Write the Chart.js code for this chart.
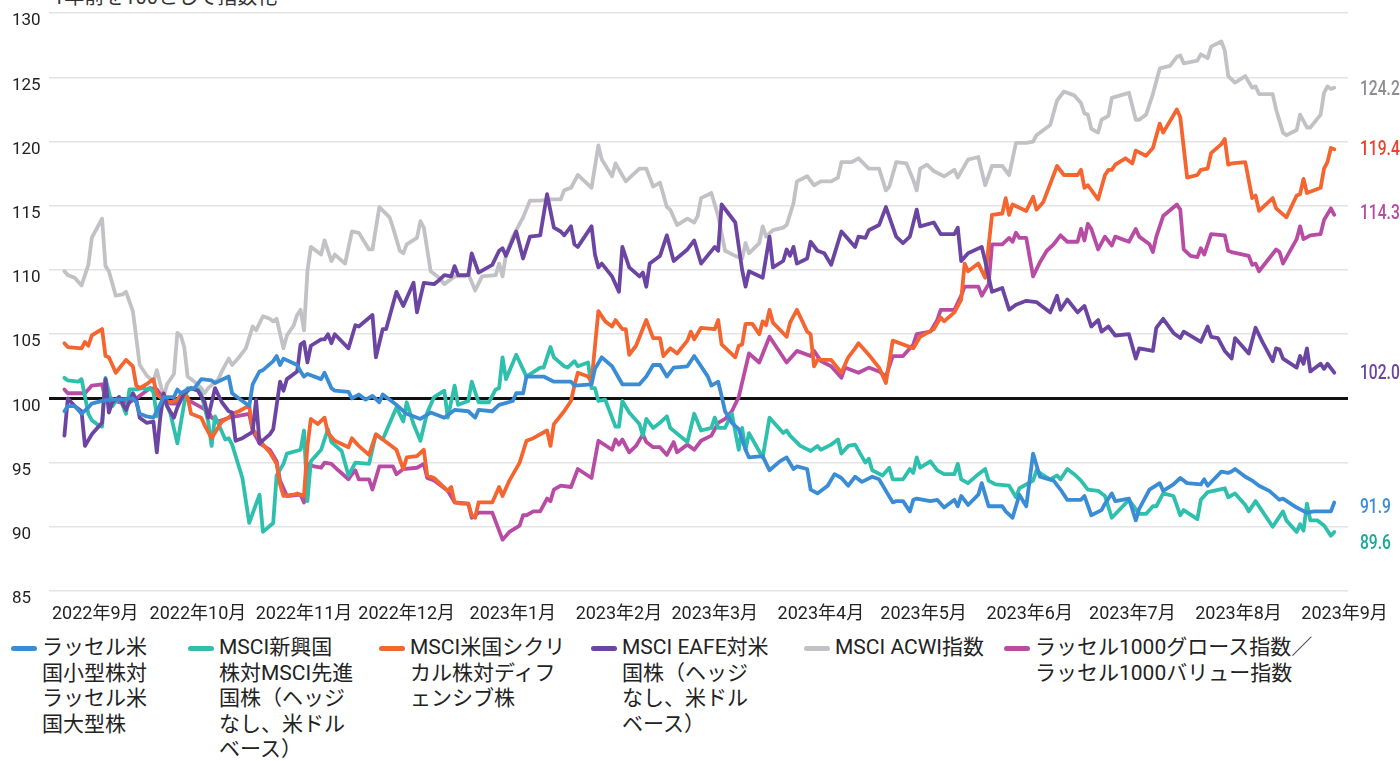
<!DOCTYPE html>
<html lang="ja">
<head>
<meta charset="utf-8">
<script src="https://cdn.jsdelivr.net/npm/chart.js@4.4.1/dist/chart.umd.min.js"></script>
<style>
  body { margin: 0; background: #fff; width: 1400px; height: 761px; overflow: hidden; position: relative;
         font-family: "Roboto", "Noto Sans CJK JP", sans-serif; }
  #note { position: absolute; left: 53px; top: -19px; font-size: 20px; color: #333; white-space: nowrap; }
  #wrap { position: absolute; left: 0; top: 0; width: 1400px; height: 631px; }
  #legend { position: absolute; left: 0; top: 635px; width: 1400px; height: 126px; }
  .item { position: absolute; top: 0; display: flex; align-items: flex-start; }
  .mark { width: 26px; height: 5px; border-radius: 3px; margin-top: 11px; margin-right: 5px; flex: none; }
  .txt { font-size: 21px; line-height: 25.5px; color: #222; white-space: pre; }
</style>
</head>
<body>
<div id="note">1年前を100として指数化</div>
<div id="wrap"><canvas id="grafico" width="1400" height="631"></canvas></div>
<div id="legend"></div>
<script>
// etiquetas del eje x (inicio de cada mes)
const monthLabels = ['2022年9月', '2022年10月', '2022年11月', '2022年12月', '2023年1月', '2023年2月', '2023年3月',
  '2023年4月', '2023年5月', '2023年6月', '2023年7月', '2023年8月', '2023年9月'];

// nombres de las series (\n = salto de linea de la leyenda)
const seriesNames = [
  'ラッセル米\n国小型株対\nラッセル米\n国大型株',
  'MSCI新興国\n株対MSCI先進\n国株（ヘッジ\nなし、米ドル\nベース）',
  'MSCI米国シクリ\nカル株対ディフ\nェンシブ株',
  'MSCI EAFE対米\n国株（ヘッジ\nなし、米ドル\nベース）',
  'MSCI ACWI指数',
  'ラッセル1000グロース指数／\nラッセル1000バリュー指数'
];

// [dias desde 2022-09-01, valor indexado]
const smallVsLarge = [[-9,99],[-8,99.4],[-6,99.4],[-4,98.8],[-2,99.3],[-1,99.6],[2,99.8],[4,99.9],[7,99.9],[11,100],[12,99.7],[13,98.8],[15,98.6],[17,98.5],[18,99],[20,100.1],[23,100.1],[24,100.7],[25,100.4],[27,100.7],[29,100.8],[31,101.5],[34,101.4],[35,101.2],[39,101.7],[40,100.4],[42,100],[45,99.4],[46,101.1],[48,102.1],[49,102.2],[52,102.9],[53,103.3],[54,102.6],[55,103.1],[59,102.6],[60,102.1],[61,101.7],[62,101.9],[66,101.5],[67,102],[69,100.8],[70,100.6],[74,100.5],[75,100],[77,100.3],[79,99.9],[81,100.2],[83,99.7],[84,100.3],[88,99.5],[91,98.8],[95,98.4],[98,98.9],[102,98.5],[105,99.1],[109,99],[111,98.5],[112,99.1],[116,99],[118,99.5],[122,99.8],[123,100.4],[125,100.4],[126,101.7],[131,101.7],[134,101.3],[139,101.3],[140,101],[145,101.1],[146,102.3],[148,103.2],[151,102.5],[154,101.1],[159,101.1],[161,101.7],[163,102.6],[165,102.6],[167,101.7],[169,102.4],[173,102.5],[175,103.3],[179,101.7],[180,101],[182,101.3],[183,100.2],[184,99],[186,98.1],[188,97.6],[190,96],[191,95.4],[195,95.5],[197,94.4],[200,95.1],[202,95.4],[204,94.5],[205,94.7],[208,94.5],[209,92.9],[211,92.6],[214,93.2],[216,94.1],[218,93.8],[220,93.2],[222,93.9],[224,93.5],[227,93.9],[229,93.7],[233,91.9],[234,92],[236,92],[238,91.2],[239,92.1],[240,92.2],[244,92],[246,92.1],[248,91.5],[251,92.1],[252,91.6],[253,92.4],[255,91.7],[258,92.5],[259,93.4],[261,91.6],[265,91.6],[266,91.2],[268,90.7],[270,92.5],[272,91.6],[274,95.7],[276,93.9],[280,93.6],[282,92.9],[284,92.1],[288,92.1],[289,92.4],[291,90.9],[294,91.3],[295,91.8],[297,92.6],[298,92],[302,92.2],[304,90.5],[305,91.4],[308,92.9],[311,93.4],[312,92.8],[315,93.3],[317,93.8],[319,93.4],[323,93.3],[324,93.7],[325,93.2],[329,94.3],[331,94.2],[332,94.3],[333,94.5],[336,93.9],[338,93.6],[340,93.2],[343,92.8],[346,92.1],[347,92.2],[351,91.5],[354,91.1],[356,91.2],[361,91.2],[362,91.9]];

const emVsDeveloped = [[-9,101.6],[-8,101.4],[-5,101.3],[-4,101.5],[-2,98.8],[-1,98.3],[1,97.9],[2,97.8],[3,101.6],[5,99.4],[7,100.1],[9,98.8],[10,100.7],[12,100.7],[14,100.8],[15,100.7],[16,100.8],[17,100.5],[18,98.6],[20,100],[22,98.8],[24,96.5],[26,99.6],[27,100.8],[30,100.7],[31,100.3],[33,98.2],[34,96.3],[35,98.6],[37,97.4],[38,96.8],[39,96.9],[40,96.4],[43,93.8],[45,90.3],[48,92.5],[49,89.6],[52,90.3],[53,94],[55,94.9],[56,95.7],[60,96],[61,97.5],[62,92],[63,95.1],[66,96],[68,97.6],[69,96.6],[72,95.9],[74,94],[76,95],[80,94.9],[82,97.2],[84,96.8],[88,99.3],[90,98.2],[91,99.7],[93,98],[95,96.7],[97,98.9],[99,100.1],[102,100.6],[103,98.5],[105,101],[106,99.5],[109,99.8],[110,101.3],[112,99.7],[115,99.7],[117,100.7],[118,100.8],[119,103.2],[120,101.5],[123,103.4],[126,101.7],[130,102.4],[131,102.4],[133,104],[134,103.2],[137,102.5],[138,102.4],[140,102.9],[141,102.5],[144,102.8],[145,100.8],[146,100.8],[147,99.8],[149,99.9],[152,97.8],[153,97.8],[154,99.8],[156,98.9],[159,98],[160,97.1],[161,98.4],[163,97.7],[165,98.1],[167,98.6],[168,97.7],[173,96.6],[175,98.8],[177,97.5],[180,97.7],[181,98.5],[182,97.7],[184,97.7],[186,98.8],[188,96],[189,97.7],[190,96],[191,97.3],[195,95.4],[197,98.5],[201,97.3],[202,97.5],[203,97.1],[206,96.3],[209,95.9],[211,96.3],[212,96],[215,96.4],[217,96.8],[218,95.7],[220,96.3],[222,96.4],[225,95],[226,95.3],[227,94.4],[230,94],[232,94.6],[233,93.7],[236,93.7],[238,94.5],[239,94.2],[240,95.4],[241,94.6],[244,95.1],[246,94.4],[248,94.1],[251,94.1],[252,94.9],[253,93.7],[255,93.4],[258,94.1],[260,94.5],[261,93.6],[263,93.3],[267,93.2],[269,92.3],[270,93],[274,93.6],[275,94.4],[277,94],[279,93.7],[281,94],[282,93.7],[284,94.5],[286,94.1],[288,93.6],[290,92.9],[293,92.8],[295,92.4],[297,90.7],[302,92.1],[305,91],[307,91],[309,91.6],[310,91.6],[312,92.6],[315,92.4],[317,90.9],[318,91.3],[322,90.6],[323,92.1],[325,92.7],[330,93],[331,92.3],[333,92.6],[336,91.7],[337,91.2],[339,92],[344,90],[347,91.2],[348,90.5],[351,89.6],[352,90.2],[353,89.7],[354,91.8],[355,90.5],[357,90.5],[359,90.1],[361,89.3],[362,89.6]];

const cyclicalVsDefensive = [[-9,104.3],[-8,104],[-4,103.9],[-3,104.4],[-2,104.1],[-1,104.9],[2,105.4],[3,103.3],[4,103.2],[6,102],[9,103],[11,102.5],[12,101],[13,100.8],[15,101.1],[17,101.5],[18,100.3],[20,99.9],[22,99.7],[24,99.9],[25,100.3],[27,100.1],[28,98.8],[31,98.5],[32,97.9],[33,97.4],[34,96.9],[37,98.2],[39,98.5],[40,98.8],[42,99],[44,99.3],[45,99.4],[46,97.6],[48,96.9],[49,96.4],[51,95.8],[53,94.9],[54,93.3],[55,92.4],[58,92.5],[59,92.6],[61,92.4],[62,96.3],[63,98.4],[65,98],[67,98.5],[68,97.3],[70,96.7],[74,96.2],[75,96.9],[77,96.3],[80,95.6],[82,97.2],[85,96.6],[88,96],[90,94.5],[91,95.4],[94,95.5],[96,96],[97,94],[99,93.8],[103,92.8],[104,93.1],[105,91.9],[107,91.8],[109,91.8],[110,90.9],[111,90.7],[112,91.9],[116,91.9],[118,93.1],[119,92.4],[121,93.6],[124,95],[126,96.7],[128,96.9],[132,97.5],[133,96.3],[134,98],[137,99],[139,99.8],[140,101],[141,102],[144,101.7],[145,101.3],[147,106.8],[149,106],[151,105.6],[152,106.1],[154,105.4],[155,105.4],[156,103.4],[158,104.1],[161,106.1],[163,104.7],[165,104.7],[166,103.3],[168,103.9],[170,103.5],[173,104.5],[174,105.2],[175,104.6],[177,105.5],[181,105.4],[182,106.1],[183,104.2],[187,103.2],[188,104.1],[189,104.2],[190,105.8],[192,105.8],[194,105],[195,106],[196,105.7],[197,106.9],[198,105.9],[202,104.8],[203,105.9],[205,106.9],[208,105.2],[209,105],[210,102.5],[211,103],[215,103],[218,102],[220,103.2],[222,103.9],[223,104.3],[226,103.4],[229,102.4],[231,101.2],[233,104.5],[239,103.9],[241,104.8],[245,105.4],[247,106.3],[248,106],[251,106.7],[253,107.7],[254,110.5],[255,109.9],[258,110.5],[260,109.4],[262,114.3],[265,114.4],[266,115.6],[267,114.3],[268,115.1],[272,114.6],[274,115.7],[275,114.7],[277,115.3],[281,118.1],[283,117.4],[287,117.4],[288,117.8],[289,116.4],[290,116.6],[293,115.5],[295,117.4],[296,117.8],[297,117.8],[298,118.2],[301,118.7],[303,118.3],[304,119.3],[307,118.9],[309,119.5],[311,121.4],[312,120.7],[316,122.5],[317,121.9],[319,117.2],[322,117.4],[323,117.8],[325,117.9],[326,119.1],[329,119.8],[330,120.2],[331,118.2],[332,118.3],[336,118.4],[338,115.6],[339,115.8],[340,114.6],[344,115.6],[345,114.8],[348,114.1],[351,115.8],[352,115.9],[353,117.1],[354,116],[358,116.4],[359,117.9],[360,118.4],[361,119.5],[362,119.4]];

const eafeVsUs = [[-9,97.1],[-8,100],[-6,99.4],[-4,99],[-3,96.3],[-1,97.2],[2,98.1],[3,101.5],[4,98.9],[5,99.7],[7,100.1],[9,99.1],[11,100.4],[12,99.9],[13,98.5],[15,98.1],[17,98.2],[18,95.8],[19,98.5],[20,100.4],[21,99.4],[23,98.5],[24,99.3],[26,100.4],[28,100.8],[30,100.6],[32,99.7],[33,98.5],[35,100.8],[37,99.7],[39,99],[40,98.9],[41,96.7],[43,96.9],[46,97.4],[47,99.9],[48,96.5],[51,97.2],[52,97.6],[54,101.3],[55,100.6],[56,101.5],[59,102.1],[60,104.2],[61,104.4],[62,102.8],[63,104.1],[66,104.6],[67,104.6],[68,105],[69,104.3],[70,105],[74,103.9],[76,105.7],[77,105.6],[81,106.5],[82,103.2],[84,105.4],[85,105.4],[88,108.3],[90,107.2],[93,109],[94,106.7],[96,109],[99,108.9],[100,109.1],[102,109.6],[104,109.5],[105,110.3],[106,109.6],[109,109.6],[110,111.3],[112,109.8],[116,110.4],[118,111.5],[119,111.7],[120,111.1],[123,113],[125,110.9],[127,112.6],[130,112.7],[132,115.9],[134,113.3],[136,113],[137,112.7],[139,113.4],[140,112],[141,111.8],[145,113.4],[146,111.2],[147,110.2],[148,110.5],[151,109.5],[153,108.3],[154,111.8],[156,110.2],[159,109.5],[160,109.8],[161,108.7],[162,110.5],[164,110.9],[165,111.1],[167,112.7],[169,110.7],[173,111.6],[175,112.3],[177,110.5],[181,111.8],[182,111.5],[183,115.1],[187,113.7],[189,110],[190,108.7],[191,109.9],[195,109.4],[197,112.6],[198,110.2],[201,110.7],[202,111.6],[203,111.1],[204,111.8],[205,110.5],[208,110.9],[209,112.2],[211,111.5],[213,111.3],[215,110.4],[218,113],[219,112.7],[222,111.8],[223,112.6],[225,112.5],[226,113.1],[229,113.5],[231,114.9],[234,112.6],[236,112.1],[238,112.6],[240,114.7],[241,113.4],[245,113.7],[247,112.8],[251,112.8],[252,113.3],[253,110.7],[255,111.3],[259,111.8],[260,110.7],[262,108.3],[265,108.6],[267,106.9],[269,107.3],[272,107.6],[275,107.5],[276,107.3],[279,106.7],[281,108],[282,106.9],[284,107.7],[287,106.7],[289,107.2],[291,105.6],[293,106.1],[294,105.2],[296,105.6],[298,104.9],[302,105],[304,103.1],[305,103.9],[309,103.7],[310,105.5],[312,106.2],[315,105.1],[317,104.7],[318,105.2],[323,104.4],[325,105.6],[326,104.8],[328,104.7],[330,103.7],[332,103.1],[333,104.7],[337,103.5],[339,105.5],[341,104.4],[344,102.9],[345,103.9],[346,103.8],[347,103.1],[351,102.4],[352,103.3],[353,102.7],[354,103.9],[355,102.1],[358,102.7],[359,102.3],[360,102.7],[362,102]];

const acwi = [[-9,109.9],[-8,109.6],[-6,109.4],[-4,108.8],[-2,110.4],[-1,112.5],[0,113],[2,114],[3,110.3],[4,109.9],[6,108],[8,108.1],[9,108.3],[11,106.8],[12,104.7],[13,102.6],[15,101.8],[17,101.3],[18,102.2],[20,100.1],[21,101.1],[23,101.9],[24,105.1],[25,104.9],[26,104],[27,101.7],[29,101.3],[31,100.8],[32,100.4],[33,100.8],[36,101.5],[37,102.1],[39,103.1],[40,102.6],[41,102.9],[42,103.2],[44,103.9],[46,105.6],[47,105.3],[49,106.4],[51,106.2],[52,106],[53,106.2],[55,103.9],[56,104.9],[58,105.7],[59,106.5],[60,106.9],[61,105.3],[62,109.9],[63,111.8],[66,111.2],[67,112.3],[69,110.7],[70,111.2],[73,110.5],[75,113],[77,112.9],[80,111.6],[81,111.6],[83,114.9],[86,114.1],[87,113.3],[89,111.5],[90,111.3],[91,112],[94,112.5],[95,113.8],[96,113.3],[98,109.9],[100,109.5],[102,108.9],[105,109.5],[108,109.5],[109,109.7],[111,108.4],[113,109.5],[117,109.6],[118,110.5],[119,109.5],[120,111.2],[122,112.6],[125,114.1],[127,115.4],[130,115.4],[133,115.5],[136,115.5],[137,116.2],[139,116.4],[141,117.4],[145,116.4],[147,119.7],[148,118.6],[151,117.3],[152,118.3],[155,116.9],[159,117.9],[161,117.9],[163,116.5],[165,116.8],[167,114.9],[168,114.7],[170,113.5],[173,114],[175,113.7],[176,114.2],[177,115.6],[180,116],[182,114.2],[184,111.5],[187,111.1],[189,110.9],[190,112.1],[191,111.3],[194,112.1],[195,113.4],[196,112.6],[198,113.1],[201,113.3],[202,113.5],[204,115.2],[205,116.9],[208,117.3],[210,116.6],[212,116.9],[215,116.9],[217,117.2],[218,118.4],[221,118.4],[223,118.7],[226,117.9],[229,117.9],[231,116.2],[232,116.5],[234,118.4],[237,118.3],[239,117],[240,116.2],[241,117.9],[243,118.2],[245,117.7],[248,117.3],[251,117.8],[252,117.2],[255,118.6],[258,118.8],[260,116.6],[262,118.1],[265,118.1],[267,117.4],[269,119.9],[272,119.9],[274,120],[275,120.5],[279,121.3],[281,123.2],[283,123.9],[286,123.6],[288,123],[289,122.2],[290,122.1],[291,121],[293,120.7],[294,121.7],[296,122],[297,123.4],[302,123.8],[304,121.7],[305,121.7],[307,122.1],[309,123.7],[311,125.7],[314,125.9],[316,126.6],[317,126.7],[318,126.1],[322,126.3],[323,126.8],[325,126.5],[326,127.4],[329,127.8],[330,127.1],[331,125.1],[333,124.6],[336,125.1],[338,124.2],[339,124.3],[340,123.7],[344,123.7],[345,122.5],[347,120.7],[348,120.5],[351,120.9],[352,122.1],[354,121.1],[355,121.1],[358,122.1],[359,123.8],[360,124.3],[361,124.1],[362,124.2]];

const growthVsValue = [[-9,100.7],[-8,100.4],[-3,100.4],[-2,100.7],[-1,101],[2,101.1],[3,99.9],[4,100.1],[7,99.7],[10,99.7],[12,100],[14,100.4],[16,100.8],[18,100.7],[20,99.9],[22,99.6],[24,99.6],[25,100.1],[27,99.9],[29,99.6],[31,99.3],[33,99],[34,98.5],[36,98.2],[39,98.5],[41,98.6],[45,98.8],[46,97.5],[48,96.5],[51,96],[53,95.1],[54,93.6],[56,92.4],[60,92.5],[61,91.9],[62,94.9],[64,94.7],[66,94.6],[67,95],[69,94.9],[71,94.4],[74,93.7],[75,94.1],[76,94.4],[77,93.7],[80,93.7],[81,92.9],[83,94.7],[87,94.7],[88,94.1],[90,94.5],[94,94.6],[96,94.9],[97,93.8],[99,93.6],[103,92.8],[105,91.9],[109,91.8],[110,90.7],[112,91.1],[116,91.1],[119,89],[121,89.6],[124,90.1],[125,90.9],[126,90.9],[128,91.2],[130,91.2],[132,92.2],[133,92],[134,92.9],[136,93.2],[139,93.1],[141,94.5],[145,93.8],[147,96.7],[151,96],[152,96.8],[153,96.4],[154,96.8],[156,95.8],[158,96.3],[160,97.2],[161,96.6],[163,96.2],[165,96.2],[167,95.6],[169,96.6],[170,95.8],[173,96.4],[175,96],[177,96.7],[180,97.1],[182,98.1],[184,98.4],[186,99],[188,100.1],[191,103.5],[194,102.8],[197,104.8],[202,102.8],[205,103.7],[209,103.3],[210,103.7],[212,102.9],[215,102.5],[218,101.6],[219,102.4],[223,102],[226,102.4],[229,102.1],[231,101.7],[233,103.3],[236,103.3],[239,104.2],[240,105],[244,105.2],[246,106.1],[247,106.9],[251,106.9],[253,108],[254,108.7],[258,108.7],[259,108],[261,108.9],[262,112],[265,112],[267,112.5],[268,112.2],[269,112.9],[270,112.5],[272,112.5],[274,109.5],[276,110.6],[278,111.5],[280,112],[282,112.7],[284,112.2],[287,112.2],[288,113.2],[289,112.3],[290,113.6],[291,113.2],[293,111.6],[295,112.6],[297,111.9],[298,112.6],[302,112.2],[304,113.2],[305,112.6],[308,112],[309,111.4],[310,112.6],[312,114.2],[316,115.1],[317,114.7],[318,111.6],[320,111.1],[322,111],[323,111.7],[324,111.2],[326,112.8],[330,112.7],[331,111.5],[332,111.4],[337,111.1],[338,110.4],[339,110.5],[340,109.9],[345,111.6],[346,111.4],[347,110.5],[351,112.4],[352,113.4],[353,112.4],[355,112.7],[358,112.8],[359,113.9],[361,114.8],[362,114.3]];

const numFont = '"Roboto", "Noto Sans CJK JP", sans-serif';

// series en el orden de la leyenda
const series = [
  { pts: smallVsLarge, color: 'rgb(58, 141, 212)', text: 'rgb(58, 141, 212)', nudge: 6, order: 1 },
  { pts: emVsDeveloped, color: 'rgb(46, 191, 173)', text: 'rgb(23, 168, 153)', nudge: 12, order: 4 },
  { pts: cyclicalVsDefensive, color: 'rgb(244, 101, 47)', text: 'rgb(232, 67, 43)', nudge: 1, order: 3 },
  { pts: eafeVsUs, color: 'rgb(107, 69, 161)', text: 'rgb(107, 69, 161)', nudge: 1, order: 2 },
  { pts: acwi, color: 'rgb(194, 194, 198)', text: 'rgb(142, 142, 146)', nudge: 2, order: 6 },
  { pts: growthVsValue, color: 'rgb(184, 76, 165)', text: 'rgb(184, 76, 165)', nudge: -1, order: 5 }
];

// dia de inicio de cada mes para las marcas del eje x
const monthDays = monthLabels.map((m, k) => (Date.UTC(2022, 8 + k, 1) - Date.UTC(2022, 8, 1)) / 864e5);

// valores finales a la derecha del grafico (letra estrecha)
const etiquetasFinales = {
  id: 'etiquetasFinales',
  afterDatasetsDraw(chart) {
    const { ctx, chartArea } = chart;
    chart.data.datasets.forEach((ds, i) => {
      const pts = chart.getDatasetMeta(i).data;
      const last = pts[pts.length - 1];
      ctx.save();
      ctx.translate(chartArea.right + 12, last.y + ds.nudge);
      ctx.scale(0.78, 1);
      ctx.font = '500 20px ' + numFont;
      ctx.textAlign = 'left';
      ctx.textBaseline = 'middle';
      ctx.fillStyle = ds.textColor;
      ctx.fillText(ds.data[ds.data.length - 1].y.toFixed(1), 0, 0);
      ctx.restore();
    });
  }
};

const grafico = new Chart(document.getElementById('grafico'), {
  type: 'line',
  data: {
    datasets: series.map((s, i) => ({
      label: seriesNames[i].replace(/\n/g, ''),
      data: s.pts.map(p => ({ x: p[0], y: p[1] })),
      borderColor: s.color,
      backgroundColor: s.color,
      borderWidth: 3.8,
      pointRadius: 0,
      tension: 0,
      fill: false,
      borderJoinStyle: 'round',
      borderCapStyle: 'round',
      order: s.order,
      textColor: s.text,
      nudge: s.nudge
    }))
  },
  options: {
    responsive: false,
    animation: false,
    layout: { padding: { left: 12, right: 52, top: 13, bottom: 0 } },
    plugins: { legend: { display: false }, tooltip: { enabled: false } },
    scales: {
      x: {
        type: 'linear',
        min: -13.5,
        max: 366,
        grid: { display: false },
        border: { display: false },
        afterBuildTicks: s => { s.ticks = monthDays.map(v => ({ value: v })); },
        afterFit: s => { s.height = 40; },
        ticks: {
          autoSkip: false,
          maxRotation: 0,
          padding: 5,
          color: '#222',
          font: { family: numFont, size: 18 },
          callback: (v, i) => monthLabels[i]
        }
      },
      y: {
        min: 85,
        max: 130,
        afterFit: s => { s.width = 37; },
        border: { display: false },
        grid: {
          drawTicks: false,
          color: c => c.tick.value === 100 ? '#111' : '#e4e4e4',
          lineWidth: c => c.tick.value === 100 ? 3 : 1.5
        },
        ticks: {
          stepSize: 5,
          crossAlign: 'far',
          labelOffset: 8,
          color: '#222',
          font: { family: numFont, size: 17 }
        }
      }
    }
  },
  plugins: [etiquetasFinales]
});

// leyenda html con saltos de linea como en el original
const legendLeft = [11, 188, 379, 591, 804, 1004];
const legend = document.getElementById('legend');
series.forEach((s, i) => {
  const item = document.createElement('div');
  item.className = 'item';
  item.style.left = legendLeft[i] + 'px';
  item.innerHTML = '<span class="mark" style="background:' + s.color + '"></span><span class="txt"></span>';
  item.querySelector('.txt').textContent = seriesNames[i];
  legend.appendChild(item);
});
</script>
</body>
</html>
